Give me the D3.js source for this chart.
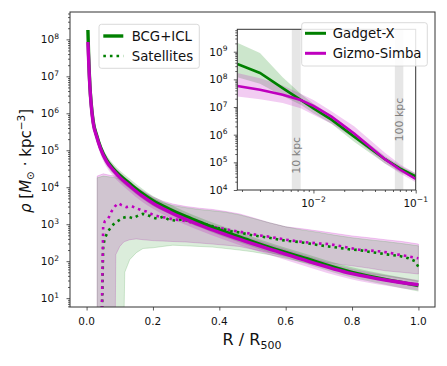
<!DOCTYPE html>
<html lang="en">
<head>
<meta charset="utf-8">
<title>Density profiles</title>
<script src="https://d3js.org/d3.v7.min.js"></script>
<style>
  body { margin: 0; background: #fff; }
  svg { font-family: 'DejaVu Sans', sans-serif; }
  .tick line { stroke: #333; stroke-width: 0.8px; }
  .frame { fill: none; stroke: #333; stroke-width: 1px; }
</style>
</head>
<body>
<svg id="chart" width="447" height="366"></svg>
<script>
// ---- main panel: BCG+ICL profiles (R / R500) ----
var bcgR       = [0.004, 0.006, 0.008, 0.01, 0.014, 0.02, 0.03, 0.042, 0.06, 0.08, 0.1, 0.13, 0.165, 0.2, 0.25, 0.3, 0.35, 0.4, 0.464, 0.564, 0.645, 0.8, 0.9, 1.0];
var bcgGadget  = [1.8e8, 4e7, 1.3e7, 5.5e6, 1.8e6, 6e5, 2.6e5, 1.2e5, 5.5e4, 3.2e4, 2.1e4, 1.25e4, 7e3, 4.3e3, 2.55e3, 1.6e3, 1.05e3, 700, 440, 215, 130, 50, 32, 22];
var bcgGadgetLo= [1.3e8, 2.9e7, 9.4e6, 4e6, 1.3e6, 4.3e5, 1.9e5, 8.6e4, 4e4, 2.3e4, 1.5e4, 9e3, 5e3, 3.1e3, 1.85e3, 1.15e3, 760, 500, 315, 155, 94, 36, 23, 15];
var bcgGadgetHi= [2.4e8, 5.4e7, 1.75e7, 7.4e6, 2.4e6, 8.1e5, 3.5e5, 1.6e5, 7.4e4, 4.3e4, 2.85e4, 1.7e4, 9.5e3, 5.8e3, 3.45e3, 2.15e3, 1.4e3, 950, 600, 290, 175, 68, 44, 30];
var bcgGizmo   = [8.5e7, 3e7, 1.1e7, 5e6, 1.6e6, 5.4e5, 2.4e5, 1.1e5, 5e4, 2.9e4, 1.85e4, 1.08e4, 6e3, 3.7e3, 2.15e3, 1.35e3, 880, 600, 380, 195, 115, 46, 31, 23];
var bcgGizmoLo = [6e7, 2.1e7, 7.7e6, 3.5e6, 1.1e6, 3.8e5, 1.7e5, 7.7e4, 3.5e4, 2e4, 1.3e4, 7.6e3, 4.2e3, 2.6e3, 1.5e3, 950, 620, 420, 265, 135, 80, 32, 22, 16];
var bcgGizmoHi = [1.15e8, 4e7, 1.5e7, 6.7e6, 2.15e6, 7.3e5, 3.2e5, 1.5e5, 6.7e4, 3.9e4, 2.5e4, 1.45e4, 8.1e3, 5e3, 2.9e3, 1.8e3, 1.2e3, 810, 510, 265, 155, 62, 42, 31];

// ---- main panel: satellites ----
var satGadgetR = [0.045, 0.05, 0.055, 0.065, 0.075, 0.085, 0.1, 0.11, 0.125, 0.14, 0.155, 0.17, 0.185, 0.2, 0.215, 0.23, 0.25, 0.27, 0.29, 0.31, 0.33, 0.35, 0.37, 0.39, 0.41, 0.43, 0.46, 0.49, 0.52, 0.55, 0.58, 0.61, 0.64, 0.67, 0.7, 0.73, 0.76, 0.79, 0.82, 0.85, 0.88, 0.91, 0.94, 0.97, 0.99, 1.0];
var satGadget  = [1, 250, 420, 650, 850, 1100, 1300, 1500, 1600, 1450, 1700, 1900, 1750, 1500, 1400, 1600, 1300, 1250, 1350, 1200, 1100, 1050, 950, 800, 750, 650, 600, 520, 470, 430, 380, 350, 330, 300, 270, 250, 230, 210, 200, 180, 165, 150, 140, 120, 100, 70];
var satGizmoR  = [0.045, 0.05, 0.055, 0.065, 0.075, 0.085, 0.095, 0.105, 0.12, 0.135, 0.15, 0.165, 0.18, 0.2, 0.22, 0.24, 0.26, 0.28, 0.3, 0.32, 0.34, 0.36, 0.38, 0.4, 0.43, 0.46, 0.49, 0.52, 0.55, 0.58, 0.61, 0.64, 0.67, 0.7, 0.73, 0.76, 0.79, 0.82, 0.85, 0.88, 0.91, 0.94, 0.97, 1.0];
var satGizmo   = [1, 900, 1200, 1400, 2200, 3000, 3700, 3300, 2900, 3100, 2700, 2400, 2200, 1800, 1600, 1500, 1350, 1300, 1200, 1100, 1000, 950, 850, 800, 700, 630, 560, 500, 460, 410, 370, 340, 320, 300, 290, 260, 230, 205, 195, 185, 170, 150, 135, 120];

var satBandR   = [0.032, 0.05, 0.07, 0.086, 0.088, 0.1, 0.112, 0.115, 0.13, 0.15, 0.17, 0.2, 0.23, 0.26, 0.3, 0.34, 0.38, 0.42, 0.46, 0.5, 0.55, 0.6, 0.65, 0.7, 0.75, 0.8, 0.85, 0.9, 0.95, 1.0];
var satGizmoHi = [2e4, 2.3e4, 2.1e4, 2e4, 2e4, 1.8e4, 1.6e4, 1.55e4, 1.3e4, 1e4, 7.8e3, 5.4e3, 4.2e3, 3.5e3, 3e3, 2.7e3, 2.5e3, 2.2e3, 1.9e3, 1.5e3, 1.1e3, 850, 750, 650, 560, 480, 430, 380, 340, 290];
var satGizmoLo = [1, 1, 1, 1, 150, 250, 330, 340, 380, 400, 380, 360, 350, 340, 330, 310, 290, 270, 250, 210, 170, 140, 120, 100, 85, 75, 65, 55, 50, 45];
var satGadgetHi= [1.8e4, 2e4, 1.9e4, 1.8e4, 1.8e4, 1.65e4, 1.5e4, 1.45e4, 1.25e4, 9.6e3, 7.3e3, 5e3, 3.8e3, 3.2e3, 2.8e3, 2.5e3, 2.3e3, 2.1e3, 1.8e3, 1.45e3, 1.1e3, 850, 700, 600, 500, 430, 380, 340, 300, 260];
var satGadgetLo= [1, 1, 1, 1, 1, 1, 1, 50, 110, 170, 220, 230, 250, 270, 260, 250, 240, 220, 200, 180, 150, 120, 95, 78, 62, 51, 45, 40, 34, 28];

// ---- inset: inner profile, log R / R500 ----
var inR        = [0.0018, 0.003, 0.005, 0.0075, 0.01, 0.015, 0.025, 0.05, 0.07, 0.1];
var inGadget   = [3.6e8, 1.7e8, 4.8e7, 1.8e7, 9e6, 3.5e6, 8.5e5, 1.3e5, 6e4, 3.1e4];
var inGadgetLo = [1.2e8, 7e7, 2.5e7, 1.2e7, 6e6, 2.5e6, 5.5e5, 9e4, 4.5e4, 2.5e4];
var inGadgetHi = [2.1e9, 9e8, 1.2e8, 3e7, 1.3e7, 5e6, 1.2e6, 1.7e5, 7.5e4, 4e4];
var inGizmo    = [5.8e7, 4.2e7, 2.8e7, 1.8e7, 1.1e7, 4.5e6, 1.1e6, 1.3e5, 5.5e4, 2.5e4];
var inGizmoLo  = [2.4e7, 1.9e7, 1.4e7, 9e6, 5.3e6, 2.5e6, 7.4e5, 9e4, 4e4, 1.9e4];
var inGizmoHi  = [1.7e8, 1.1e8, 6e7, 3e7, 1.8e7, 7e6, 2e6, 2.2e5, 8.5e4, 4e4];

var kpcLabels  = ["10 kpc", "100 kpc"];
var kpcLo      = [0.00614, 0.0625];
var kpcHi      = [0.0075, 0.0757];
var kpcTextY   = [1.8e5, 3.5e6];

var xTicks     = [0, 0.2, 0.4, 0.6, 0.8, 1.0];
var yExps      = [1, 2, 3, 4, 5, 6, 7, 8];
var inXExps    = [-2, -1];
var inYExps    = [4, 5, 6, 7, 8, 9];

var GREEN = "#008000", MAG = "#bf00bf";

var svg = d3.select("#chart");

// scales
var x  = d3.scaleLinear().domain([-0.05, 1.05]).range([70, 435]);
var y  = d3.scaleLog().domain([Math.pow(10, 0.76), Math.pow(10, 8.74)]).range([307, 12]);
var ix = d3.scaleLog().domain([0.0018, 0.1]).range([237.3, 415.7]);
var iy = d3.scaleLog().domain([1e4, Math.pow(10, 9.81)]).range([190, 29.3]);

function zip(a, b) { return a.map(function(v, i) { return [v, b[i]]; }); }
function zip3(a, b, c) { return a.map(function(v, i) { return [v, b[i], c[i]]; }); }

function minors(lo, hi) {
  var out = [];
  for (var e = Math.floor(Math.log10(lo)) - 1; e <= Math.ceil(Math.log10(hi)); e++)
    for (var k = 2; k <= 9; k++) {
      var v = k * Math.pow(10, e);
      if (v >= lo && v <= hi) out.push(v);
    }
  return out;
}

function powLabel(g, px, py, exp, anchor, fs) {
  var t = g.append("text").attr("x", px).attr("y", py)
    .attr("text-anchor", anchor).attr("font-size", fs).attr("fill", "#111");
  t.append("tspan").text("10");
  t.append("tspan").attr("dy", -fs * 0.42).attr("font-size", fs * 0.72)
    .text(exp < 0 ? "\u2212" + (-exp) : exp);
}

// clip paths
var defs = svg.append("defs");
defs.append("clipPath").attr("id", "clipMain").append("rect")
  .attr("x", 70).attr("y", 12).attr("width", 365).attr("height", 295);
defs.append("clipPath").attr("id", "clipIn").append("rect")
  .attr("x", 237.3).attr("y", 29.3).attr("width", 178.4).attr("height", 160.7);

// ---------- main panel ----------
var main = svg.append("g").attr("clip-path", "url(#clipMain)");

var area = d3.area().x(function(d) { return x(d[0]); })
  .y0(function(d) { return y(d[1]); }).y1(function(d) { return y(d[2]); });
var sarea = d3.area().curve(d3.curveMonotoneX).x(function(d) { return x(d[0]); })
  .y0(function(d) { return y(d[1]); }).y1(function(d) { return y(d[2]); });
var line = d3.line().x(function(d) { return x(d[0]); }).y(function(d) { return y(d[1]); });
var sline = d3.line().curve(d3.curveMonotoneX).x(function(d) { return x(d[0]); }).y(function(d) { return y(d[1]); });

main.append("path").datum(zip3(satBandR, satGizmoLo, satGizmoHi)).attr("d", area)
  .attr("fill", MAG).attr("fill-opacity", 0.18).attr("stroke", MAG).attr("stroke-opacity", 0.25).attr("stroke-width", 0.8);
main.append("path").datum(zip3(satBandR, satGadgetLo, satGadgetHi)).attr("d", area)
  .attr("fill", GREEN).attr("fill-opacity", 0.14).attr("stroke", GREEN).attr("stroke-opacity", 0.2).attr("stroke-width", 0.8);
main.append("path").datum(zip3(bcgR, bcgGadgetLo, bcgGadgetHi)).attr("d", sarea)
  .attr("fill", GREEN).attr("fill-opacity", 0.2);
main.append("path").datum(zip3(bcgR, bcgGizmoLo, bcgGizmoHi)).attr("d", sarea)
  .attr("fill", MAG).attr("fill-opacity", 0.2);

main.append("path").datum(zip(satGadgetR, satGadget)).attr("d", line)
  .attr("fill", "none").attr("stroke", GREEN).attr("stroke-width", 2.6).attr("stroke-dasharray", "2.6,4");
main.append("path").datum(zip(satGizmoR, satGizmo)).attr("d", line)
  .attr("fill", "none").attr("stroke", MAG).attr("stroke-width", 2.6).attr("stroke-dasharray", "2.6,4");
main.append("path").datum(zip(bcgR, bcgGadget)).attr("d", sline)
  .attr("fill", "none").attr("stroke", GREEN).attr("stroke-width", 3.4);
main.append("path").datum(zip(bcgR, bcgGizmo)).attr("d", sline)
  .attr("fill", "none").attr("stroke", MAG).attr("stroke-width", 3.4);

// main axes
var gx = svg.append("g").attr("transform", "translate(0,307)")
  .call(d3.axisBottom(x).tickValues(xTicks).tickSize(3.5).tickFormat(""));
gx.select(".domain").remove();
var gy = svg.append("g").attr("transform", "translate(70,0)")
  .call(d3.axisLeft(y).tickValues(yExps.map(function(e) { return Math.pow(10, e); })).tickSize(3.5).tickFormat(""));
gy.select(".domain").remove();
var gym = svg.append("g").attr("transform", "translate(70,0)")
  .call(d3.axisLeft(y).tickValues(minors(y.domain()[0], y.domain()[1])).tickSize(2).tickFormat(""));
gym.select(".domain").remove();
svg.append("rect").attr("class", "frame").attr("x", 70).attr("y", 12).attr("width", 365).attr("height", 295);

var labels = svg.append("g");
xTicks.forEach(function(v) {
  labels.append("text").attr("x", x(v)).attr("y", 325).attr("text-anchor", "middle")
    .attr("font-size", 10.5).attr("fill", "#111").text(v.toFixed(1));
});
yExps.forEach(function(e) { powLabel(labels, 59, y(Math.pow(10, e)) + 4, e, "end", 10.5); });

var xl = svg.append("text").attr("x", 252).attr("y", 345).attr("text-anchor", "middle")
  .attr("font-size", 16).attr("fill", "#111");
xl.append("tspan").text("R / R");
xl.append("tspan").attr("font-size", 11).attr("dy", 4).text("500");

var yl = svg.append("text").attr("transform", "translate(31,161) rotate(-90)")
  .attr("text-anchor", "middle").attr("font-size", 15).attr("fill", "#111");
yl.append("tspan").attr("font-style", "italic").text("\u03c1");
yl.append("tspan").text(" [");
yl.append("tspan").attr("font-style", "italic").text("M");
yl.append("tspan").attr("font-size", 10.5).attr("dy", 3).text("\u2299");
yl.append("tspan").attr("dy", -3).text(" \u00b7 kpc");
yl.append("tspan").attr("font-size", 10.5).attr("dy", -6).text("\u22123");
yl.append("tspan").attr("dy", 6).text("]");

// main legend
var lg = svg.append("g");
lg.append("rect").attr("x", 99).attr("y", 24.3).attr("width", 100.3).attr("height", 44).attr("rx", 2.5)
  .attr("fill", "#fff").attr("fill-opacity", 0.85).attr("stroke", "#d0d0d0").attr("stroke-width", 0.8);
lg.append("line").attr("x1", 103.3).attr("x2", 123.3).attr("y1", 36).attr("y2", 36)
  .attr("stroke", GREEN).attr("stroke-width", 3.4);
lg.append("line").attr("x1", 103.3).attr("x2", 123.3).attr("y1", 56).attr("y2", 56)
  .attr("stroke", GREEN).attr("stroke-width", 2.6).attr("stroke-dasharray", "2.6,4");
lg.append("text").attr("x", 131.7).attr("y", 40.7).attr("font-size", 13.3).attr("fill", "#111").text("BCG+ICL");
lg.append("text").attr("x", 131.7).attr("y", 60.7).attr("font-size", 13.3).attr("fill", "#111").text("Satellites");

// ---------- inset ----------
svg.append("rect").attr("x", 237.3).attr("y", 29.3).attr("width", 178.4).attr("height", 160.7).attr("fill", "#fff");
var inset = svg.append("g").attr("clip-path", "url(#clipIn)");

kpcLo.forEach(function(lo, i) {
  inset.append("rect").attr("x", ix(lo)).attr("y", 29.3).attr("width", ix(kpcHi[i]) - ix(lo)).attr("height", 160.7)
    .attr("fill", "#e6e6e6");
});

var iarea = d3.area().x(function(d) { return ix(d[0]); })
  .y0(function(d) { return iy(d[1]); }).y1(function(d) { return iy(d[2]); });
var iline = d3.line().x(function(d) { return ix(d[0]); }).y(function(d) { return iy(d[1]); });

inset.append("path").datum(zip3(inR, inGadgetLo, inGadgetHi)).attr("d", iarea)
  .attr("fill", GREEN).attr("fill-opacity", 0.2);
inset.append("path").datum(zip3(inR, inGizmoLo, inGizmoHi)).attr("d", iarea)
  .attr("fill", MAG).attr("fill-opacity", 0.2);

kpcLo.forEach(function(lo, i) {
  var cx = (ix(lo) + ix(kpcHi[i])) / 2 + 4;
  inset.append("text").attr("transform", "translate(" + cx + "," + iy(kpcTextY[i]) + ") rotate(-90)")
    .attr("text-anchor", "middle").attr("font-size", 11).attr("fill", "#808080").text(kpcLabels[i]);
});

inset.append("path").datum(zip(inR, inGadget)).attr("d", iline)
  .attr("fill", "none").attr("stroke", GREEN).attr("stroke-width", 2.6);
inset.append("path").datum(zip(inR, inGizmo)).attr("d", iline)
  .attr("fill", "none").attr("stroke", MAG).attr("stroke-width", 2.6);

var igx = svg.append("g").attr("transform", "translate(0,190)")
  .call(d3.axisBottom(ix).tickValues(inXExps.map(function(e) { return Math.pow(10, e); })).tickSize(3.5).tickFormat(""));
igx.select(".domain").remove();
var igxm = svg.append("g").attr("transform", "translate(0,190)")
  .call(d3.axisBottom(ix).tickValues(minors(ix.domain()[0], ix.domain()[1])).tickSize(2).tickFormat(""));
igxm.select(".domain").remove();
var igy = svg.append("g").attr("transform", "translate(237.3,0)")
  .call(d3.axisLeft(iy).tickValues(inYExps.map(function(e) { return Math.pow(10, e); })).tickSize(3.5).tickFormat(""));
igy.select(".domain").remove();
var igym = svg.append("g").attr("transform", "translate(237.3,0)")
  .call(d3.axisLeft(iy).tickValues(minors(iy.domain()[0], iy.domain()[1])).tickSize(2).tickFormat(""));
igym.select(".domain").remove();
svg.append("rect").attr("class", "frame").attr("x", 237.3).attr("y", 29.3).attr("width", 178.4).attr("height", 160.7);

inXExps.forEach(function(e) { powLabel(labels, ix(Math.pow(10, e)), 206.5, e, "middle", 10.5); });
inYExps.forEach(function(e) { powLabel(labels, 227.5, iy(Math.pow(10, e)) + 4, e, "end", 10.5); });

// inset legend
var ilg = svg.append("g");
ilg.append("rect").attr("x", 301.7).attr("y", 22.7).attr("width", 125.6).attr("height", 43.3).attr("rx", 2.5)
  .attr("fill", "#fff").attr("fill-opacity", 0.85).attr("stroke", "#d0d0d0").attr("stroke-width", 0.8);
ilg.append("line").attr("x1", 305).attr("x2", 326).attr("y1", 33.3).attr("y2", 33.3)
  .attr("stroke", GREEN).attr("stroke-width", 3);
ilg.append("line").attr("x1", 305).attr("x2", 326).attr("y1", 53.3).attr("y2", 53.3)
  .attr("stroke", MAG).attr("stroke-width", 3);
ilg.append("text").attr("x", 332.7).attr("y", 38).attr("font-size", 13.3).attr("fill", "#111").text("Gadget-X");
ilg.append("text").attr("x", 332.7).attr("y", 58).attr("font-size", 13.3).attr("fill", "#111").text("Gizmo-Simba");
</script>
</body>
</html>
